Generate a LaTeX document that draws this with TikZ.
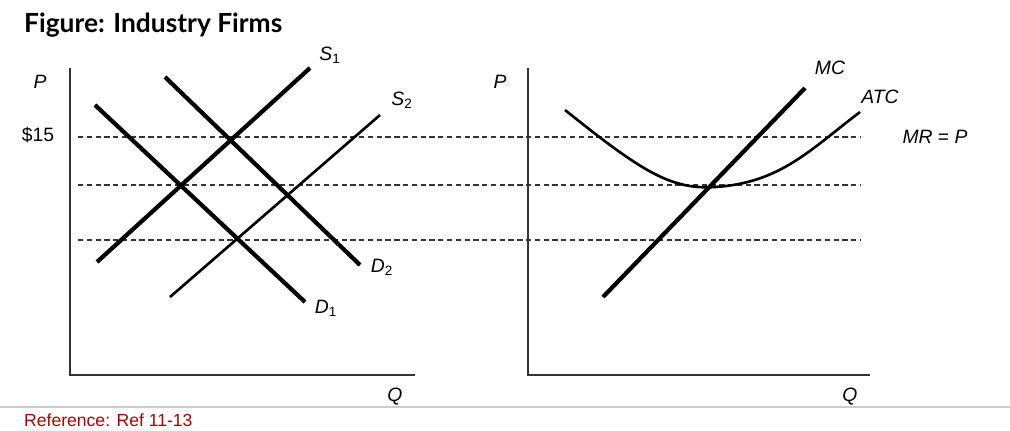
\documentclass[tikz,border=0pt]{standalone}
\usepackage{fontspec}
\setmainfont{Liberation Sans}
\newfontfamily\titlefont{Lato}
\begin{document}
\begin{tikzpicture}[x=0.02cm,y=-0.02cm,
  axis/.style={line width=1.2pt,black!80},
  thick curve/.style={line width=2.4pt},
  thin curve/.style={line width=1.5pt},
  dash line/.style={line width=1pt,dash pattern=on 3pt off 2pt,black!80},
  lbl/.style={font=\fontsize{11}{13}\selectfont\itshape}]
\useasboundingbox (0,0) rectangle (1010,430);
\node[anchor=west,font=\titlefont\bfseries\fontsize{15}{18}\selectfont] (title) at (18,25) {Figure: Industry Firms};
% left axes
\coordinate (lo) at (70,375);
\draw[axis] (70,68) -- (lo) -- (415,375);
\node[lbl] (pl) at (40,82) {P};
\node[lbl] (ql) at (395,397) {Q};
% right axes
\draw[axis] (528,68) -- (528,375) -- (870,375);
\node[lbl] (pr) at (500,82) {P};
\node[lbl] (qr) at (850,397) {Q};
% dashed
\draw[dash line] (78,137) -- (860,137);
\draw[dash line] (78,185) -- (860,185);
\draw[dash line] (78,240) -- (860,240);
\node[font=\fontsize{11}{13}\selectfont] (p15) at (38,135) {\$15};
% curves left
\draw[thick curve] (97,262) -- (310,68);
\node[lbl] (s1) at (330,55) {S\textsubscript{\upshape 1}};
\draw[thin curve] (170,297) -- (380,115);
\node[lbl] (s2) at (402,100) {S\textsubscript{\upshape 2}};
\draw[thick curve] (95,105) -- (305,302);
\node[lbl] (d1) at (326,308) {D\textsubscript{\upshape 1}};
\draw[thick curve] (165,77) -- (360,265);
\node[lbl] (d2) at (382,267) {D\textsubscript{\upshape 2}};
% right
\draw[thick curve] (603,297) -- (805,88);
\node[lbl] (mc) at (830,68) {MC};
\draw[thin curve] (565,110) .. controls (640,170) and (670,190) .. (715,187) .. controls (780,183) and (810,150) .. (860,112);
\node[lbl] (atc) at (880,97) {ATC};
\node[font=\fontsize{11}{13}\selectfont] (mr) at (935,137) {\textit{MR} = \textit{P}};
% footer
\draw[black!20,line width=0.6pt] (0,407) -- (1010,407);
\node[anchor=west,text=red!70!black,font=\fontsize{10}{12}\selectfont] (ref) at (18,420) {Reference: Ref 11-13};
\end{tikzpicture}
\end{document}
